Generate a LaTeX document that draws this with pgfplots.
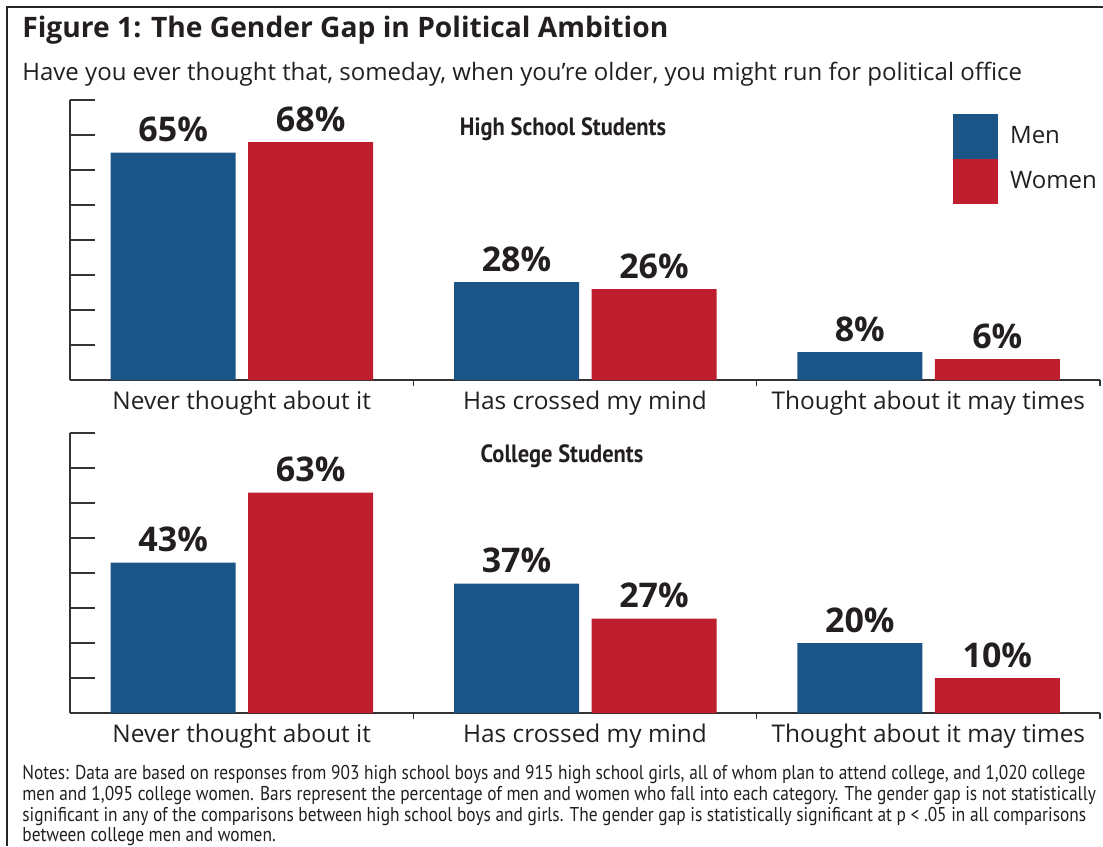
\documentclass[border=0pt]{standalone}
\usepackage{pgfplots}
\pgfplotsset{compat=1.18}
\usepackage{fontspec}
\setmainfont{Open Sans}
\newfontfamily\condfont[FakeStretch=0.867]{PT Sans}
\newfontfamily\headfont[FakeStretch=0.9]{PT Sans}
\definecolor{menblue}{HTML}{1B5588}
\definecolor{womenred}{HTML}{BE1E2D}
\definecolor{txt}{HTML}{231F20}
\pgfplotsset{
  gapstyle/.style={
    scale only axis, width=515pt, height=140pt,
    xmin=-0.5, xmax=2.5, ymin=0, ymax=80,
    axis lines*=left,
    axis line style={line width=1pt, color=black!80},
    tick align=inside,
    ytick={0,10,...,80}, yticklabels={},
    major tick length=12.5pt, minor tick length=3pt,
    ytick style={line width=1pt, color=black!80},
    xtick={0,1,2},
    xticklabels={Never thought about it, Has crossed my mind, Thought about it may times},
    minor xtick={0.5,1.5,2.5},
    major x tick style={draw=none},
    minor x tick style={line width=0.8pt, color=black!80},
    xticklabel style={font=\fontsize{12.2}{14}\selectfont, text=txt, yshift=10.5pt},
    ybar, bar width=62.5pt,
    point meta=y,
    nodes near coords={\pgfmathprintnumber{\pgfplotspointmeta}\%},
    every node near coord/.append style={font=\bfseries\fontsize{17}{20}\selectfont, text=txt, inner ysep=5pt},
    /pgf/number format/assume math mode=true,
    clip=false,
  },
  boxlegend/.style={legend image code/.code={\fill[#1] (0pt,-11.25pt) rectangle (22.5pt,11.25pt);}},
}
\pgfplotstableread{
x men women
0 65 68
1 28 26
2 8 6
}\hsdata
\pgfplotstableread{
x men women
0 43 63
1 37 27
2 20 10
}\coldata
\begin{document}
\begin{tikzpicture}
\useasboundingbox (0,0) rectangle (551.5pt,-423pt);
\draw[line width=0.6pt, black!85] (3.5pt,-423pt) -- (3.5pt,-3.5pt) -- (551.5pt,-3.5pt);
\node[anchor=base west, text=txt, inner sep=0pt, font=\bfseries\fontsize{14.1}{15}\selectfont] at (11pt,-19pt) {Figure 1: The Gender Gap in Political Ambition};
\node[anchor=base west, text=txt, inner sep=0pt, font=\fontsize{12}{13}\selectfont] at (11pt,-40pt) {Have you ever thought that, someday, when you’re older, you might run for political office};

\begin{axis}[gapstyle, at={(35pt,-190pt)}, anchor=south west,
  legend style={at={(0.857,0.95)}, anchor=north west, draw=none, fill=none, inner sep=0pt,
    row sep=0pt, nodes={inner sep=0pt}, font=\fontsize{12}{13}\selectfont, text=txt,
    cells={anchor=west}, /tikz/every odd column/.append style={column sep=6pt}},
  legend cell align=left]
\addplot[fill=menblue, draw=none, bar shift=-34.25pt, boxlegend] table[x=x, y=men] {\hsdata};
\addplot[fill=womenred, draw=none, bar shift=34.5pt, boxlegend] table[x=x, y=women] {\hsdata};
\legend{Men, Women}
\end{axis}
\node[anchor=base, text=txt, inner sep=0pt, font=\headfont\bfseries\fontsize{12.5}{13}\selectfont] at (281.5pt,-67.5pt) {High School Students};

\begin{axis}[gapstyle, at={(35pt,-356.5pt)}, anchor=south west]
\addplot[fill=menblue, draw=none, bar shift=-34.25pt] table[x=x, y=men] {\coldata};
\addplot[fill=womenred, draw=none, bar shift=34.5pt] table[x=x, y=women] {\coldata};
\end{axis}
\node[anchor=base, text=txt, inner sep=0pt, font=\headfont\bfseries\fontsize{12.5}{13}\selectfont] at (281pt,-231pt) {College Students};

\begin{scope}[every node/.style={anchor=base west, text=txt, inner sep=0pt, font=\condfont\fontsize{10}{10}\selectfont}]
\node at (11pt,-389.5pt) {Notes: Data are based on responses from 903 high school boys and 915 high school girls, all of whom plan to attend college, and 1,020 college};
\node at (11pt,-400pt) {men and 1,095 college women. Bars represent the percentage of men and women who fall into each category. The gender gap is not statistically};
\node at (11pt,-410.5pt) {significant in any of the comparisons between high school boys and girls. The gender gap is statistically significant at p < .05 in all comparisons};
\node at (11pt,-420.5pt) {between college men and women.};
\end{scope}
\end{tikzpicture}
\end{document}
